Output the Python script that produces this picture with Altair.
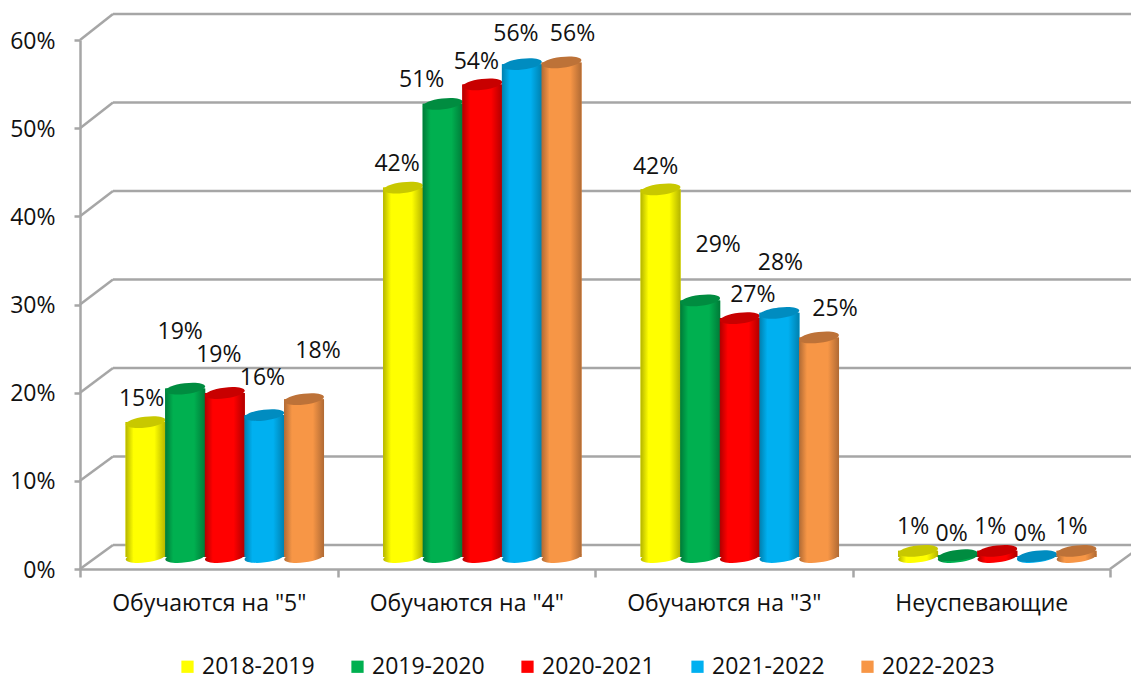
import math
import altair as alt
import pandas as pd

categories = ['Обучаются на "5"', 'Обучаются на "4"', 'Обучаются на "3"', 'Неуспевающие']
years = ["2018-2019", "2019-2020", "2020-2021", "2021-2022", "2022-2023"]
v_2018 = [0.153, 0.419, 0.417, 0.007]
v_2019 = [0.191, 0.514, 0.291, 0.002]
v_2020 = [0.186, 0.536, 0.271, 0.007]
v_2021 = [0.161, 0.559, 0.277, 0.001]
v_2022 = [0.179, 0.561, 0.249, 0.007]
series_values = [v_2018, v_2019, v_2020, v_2021, v_2022]
colors = ["#ffff00", "#00b050", "#ff0000", "#00b0f0", "#f79646"]
edge = ["#b4b400", "#007a38", "#b00000", "#0080ae", "#b06a34"]
caps = ["#c8c800", "#008c40", "#c80000", "#008cc0", "#bd7238"]
ticks = [0, 0.1, 0.2, 0.3, 0.4, 0.5, 0.6]

# label nudges (px), per year then per category, as the source chart placed them by hand
label_dx = [[-4, -6, -5, -5], [-5, -21, 18, -6], [-6, -6, 13, -7], [-2, -6, 1, -7], [14, 11, 16, -5]]
label_dy = [[-23, -24, -22, -24], [-57, -24, -55, -21], [-38, -22, -23, -24], [-37, -30, -50, -22], [-48, -28, -28, -24]]

FONT = "Open Sans"
FS = 23
INK = "#111111"
GRID = "#a6a6a6"
W, H = 1030, 529
BACK_X, BACK_Y = 33, 24
BACK_STRETCH = 531 / 529  # the back wall's gridlines sit slightly wider apart than the front axis ticks
SHIFT_Y = -12
CYL = 40


def ellipse_path(ry=0.27, tilt=-7):
    t = math.radians(tilt)
    k = 0.5523

    def p(x, y):
        y = y * ry
        return f"{x * math.cos(t) - y * math.sin(t):.3f},{x * math.sin(t) + y * math.cos(t):.3f}"

    return (f"M{p(-1, 0)} C{p(-1, -k)} {p(-k, -1)} {p(0, -1)} C{p(k, -1)} {p(1, -k)} {p(1, 0)} "
            f"C{p(1, k)} {p(k, 1)} {p(0, 1)} C{p(-k, 1)} {p(-1, k)} {p(-1, 0)} Z")


SHAPE = ellipse_path()


def body_gradient(base, dark):
    return {
        "gradient": "linear", "x1": 0, "x2": 1, "y1": 0, "y2": 0,
        "stops": [
            {"offset": 0, "color": dark},
            {"offset": 0.2, "color": base},
            {"offset": 0.72, "color": base},
            {"offset": 1, "color": dark},
        ],
    }


rows = []
for yi, y in enumerate(years):
    for ci, c in enumerate(categories):
        rows.append({"category": c, "year": y, "value": series_values[yi][ci]})
df = pd.DataFrame(rows)

x_scale = alt.Scale(domain=categories, paddingInner=0, paddingOuter=0)
x_enc = alt.X("category:N", sort=categories, scale=x_scale, title=None,
              axis=alt.Axis(labelAngle=0, tickBand="extent", tickSize=8, tickColor=GRID, tickWidth=2.5,
                            domainColor=GRID, domainWidth=2.5, labelFontSize=FS, labelFont=FONT,
                            labelColor=INK, labelPadding=15, labelLimit=400, grid=False))
x_plain = alt.X("category:N", sort=categories, scale=x_scale, title=None)
# align pushes each group of cylinders right of its band centre, onto the 3D floor
xo_enc = alt.XOffset("year:N", sort=years,
                     scale=alt.Scale(domain=years, paddingInner=0, paddingOuter=0.75, align=0.77))
y_scale = alt.Scale(domain=[0, 0.6], nice=False)
y_enc = alt.Y("value:Q", scale=y_scale, title=None,
              axis=alt.Axis(values=ticks, format=".0%", tickSize=6, tickColor=GRID, tickWidth=2.5,
                            domainColor=GRID, domainWidth=2.5, labelFontSize=FS, labelFont=FONT,
                            labelColor=INK, labelPadding=19, labelOffset=1, grid=False))
y_plain = alt.Y("value:Q", scale=y_scale, title=None)

layers = []

# back wall and its diagonals
back_rise = BACK_Y / H * 0.6
for t in ticks:
    wall = t * BACK_STRETCH
    layers.append(alt.Chart(pd.DataFrame({"value": [wall]})).mark_rule(
        color=GRID, strokeWidth=2.5, yOffset=-BACK_Y).encode(
        x=alt.value(BACK_X), x2=alt.value(W + BACK_X), y=y_plain))
    layers.append(alt.Chart(pd.DataFrame({"value": [t], "top": [wall + back_rise]})).mark_rule(
        color=GRID, strokeWidth=2.5).encode(
        x=alt.value(0), x2=alt.value(BACK_X), y=y_plain, y2="top:Q"))
layers.append(alt.Chart(pd.DataFrame({"value": [0.0], "top": [back_rise]})).mark_rule(
    color=GRID, strokeWidth=2.5).encode(
    x=alt.value(W), x2=alt.value(W + BACK_X), y=y_plain, y2="top:Q"))

# solid layer: carries the axes and the legend
layers.append(alt.Chart(df).mark_bar(size=CYL, yOffset=SHIFT_Y).encode(
    x=x_enc, xOffset=xo_enc, y=y_enc,
    color=alt.Color("year:N", sort=years, scale=alt.Scale(domain=years, range=colors), title=None,
                    legend=alt.Legend(orient="none", legendX=96, legendY=615, direction="horizontal",
                                      columns=5, symbolType="square", symbolSize=150, symbolStrokeWidth=0,
                                      labelFontSize=FS, labelFont=FONT, labelColor=INK,
                                      columnPadding=31, labelOffset=3)),
))

for yi, y in enumerate(years):
    sub = df[df.year == y]
    grad = body_gradient(colors[yi], edge[yi])
    layers.append(alt.Chart(sub.assign(base=0.0)).mark_point(
        shape=SHAPE, size=CYL * CYL, filled=True, opacity=1, fill=grad, yOffset=SHIFT_Y).encode(
        x=x_plain, xOffset=xo_enc, y=alt.Y("base:Q", scale=y_scale, title=None)))
    layers.append(alt.Chart(sub).mark_bar(size=CYL, fill=grad, yOffset=SHIFT_Y).encode(
        x=x_plain, xOffset=xo_enc, y=y_plain))
    layers.append(alt.Chart(sub).mark_point(
        shape=SHAPE, size=CYL * CYL, filled=True, opacity=1, fill=caps[yi], yOffset=SHIFT_Y).encode(
        x=x_plain, xOffset=xo_enc, y=y_plain))

for yi, y in enumerate(years):
    for ci, c in enumerate(categories):
        one = df[(df.year == y) & (df.category == c)]
        layers.append(alt.Chart(one).mark_text(
            font=FONT, fontSize=FS, color=INK,
            dx=label_dx[yi][ci], dy=label_dy[yi][ci] + SHIFT_Y).encode(
            x=x_plain, xOffset=xo_enc, y=y_plain,
            text=alt.Text("value:Q", format=".0%")))

chart = alt.layer(*layers).properties(
    width=W, height=H,
    padding={"left": 72, "top": 32, "right": 21, "bottom": 108},
    autosize=alt.AutoSizeParams(type="none"),
    background="white",
).configure_view(stroke=None)

chart.save("out.html", embed_options={"renderer": "svg", "actions": False})
